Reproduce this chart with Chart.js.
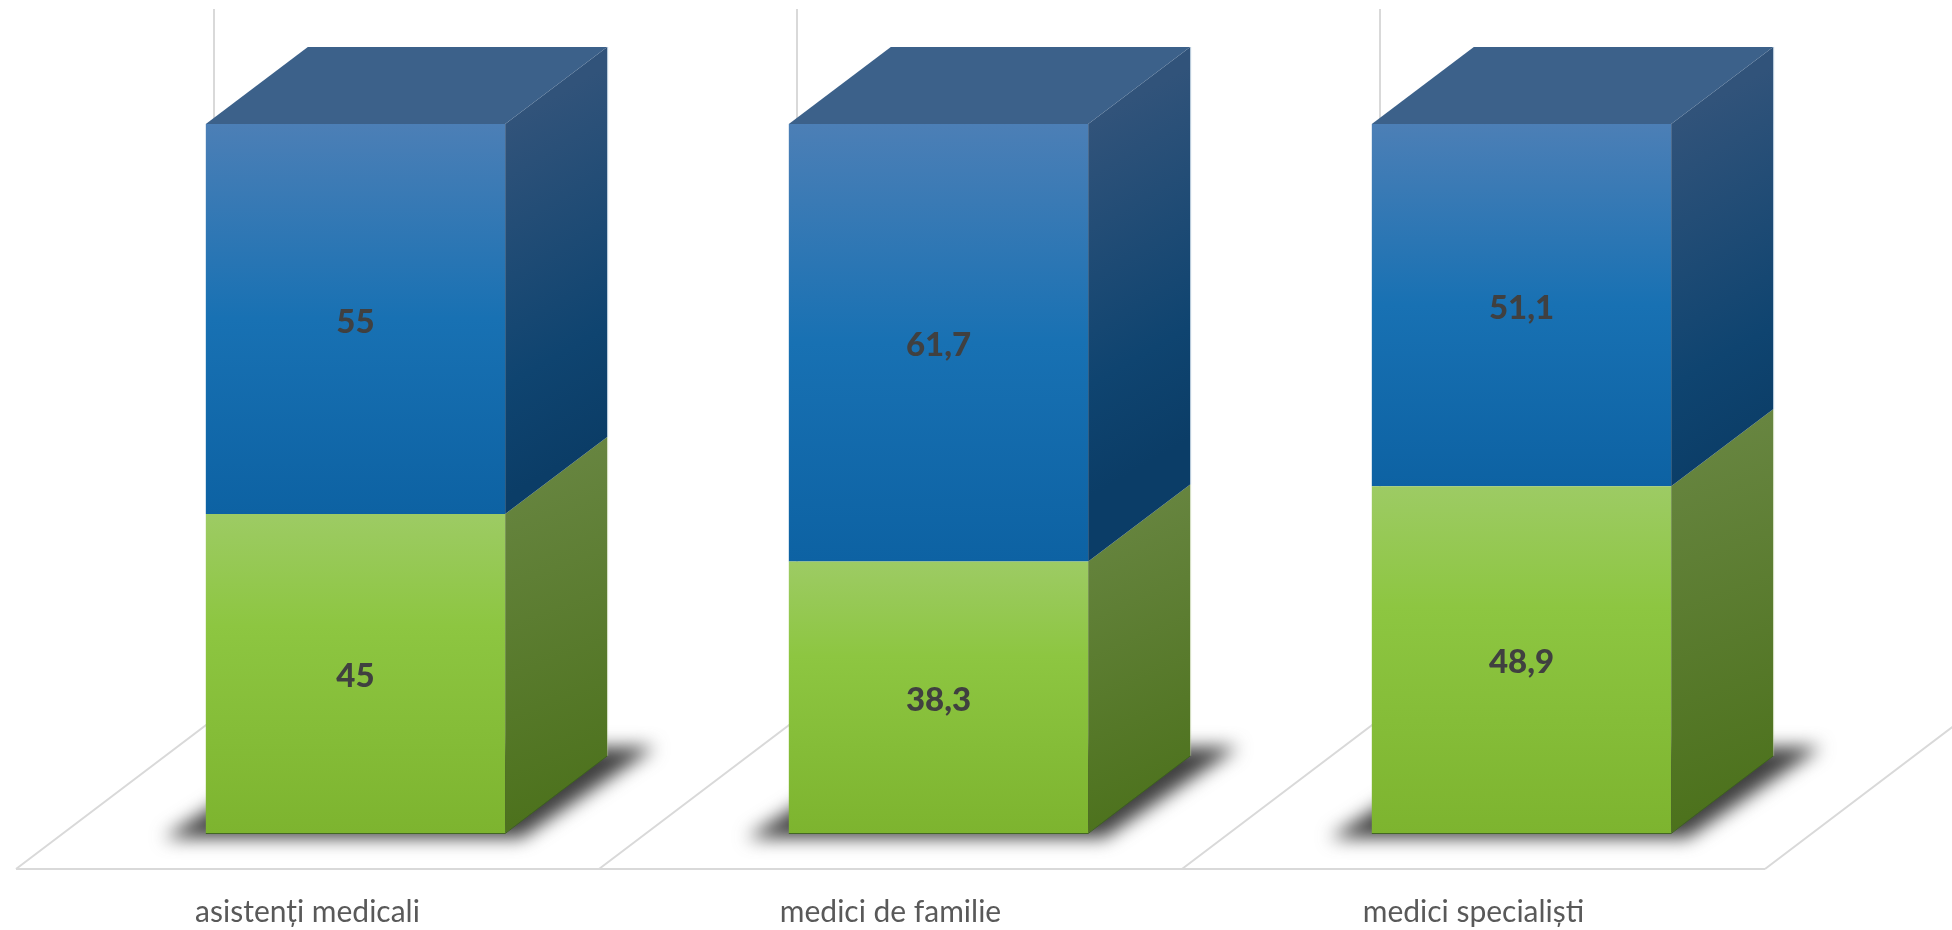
<!DOCTYPE html>
<html lang="ro">
<head>
<meta charset="utf-8">
<title>Grafic</title>
<script src="https://cdn.jsdelivr.net/npm/chart.js@4/dist/chart.umd.min.js"></script>
<style>
html,body{margin:0;padding:0;background:#fff;overflow:hidden}
canvas{display:block}
</style>
</head>
<body>
<canvas id="c" width="1952" height="930"></canvas>
<script>
const categories = ['asistenți medicali', 'medici de familie', 'medici specialiști'];
const greenValues = [45, 38.3, 48.9];
const blueValues = [55, 61.7, 51.1];

const BAR_DEPTH = { x: 102, y: 77 };
const FLOOR_DEPTH = { x: 198, y: 150 };
const FRONT_SHIFT = { x: 48, y: 36 };
const GRID_COLOR = '#D9D9D9';

function faceGradient(ctx, top, bottom, stops) {
  const g = ctx.createLinearGradient(0, top, 0, bottom);
  stops.forEach(s => g.addColorStop(s[0], s[1]));
  return g;
}
const blueStops = [[0, '#4C7FB6'], [0.5, '#1871B3'], [1, '#0D62A3']];
const greenStops = [[0, '#9DCB64'], [0.35, '#8DC641'], [1, '#7DB42F']];

function frontFill(stops, lowerValues) {
  return function (c) {
    const chart = c.chart;
    if (!chart.chartArea) return stops[1][1];
    const y = chart.scales.y;
    const raw = c.dataset.data[c.dataIndex];
    const low = lowerValues ? lowerValues[c.dataIndex] : 0;
    return faceGradient(chart.ctx, y.getPixelForValue(low + raw), y.getPixelForValue(low), stops);
  };
}

function poly(ctx, pts) {
  ctx.beginPath();
  pts.forEach((p, i) => i ? ctx.lineTo(p[0], p[1]) : ctx.moveTo(p[0], p[1]));
  ctx.closePath();
}

const scene3d = {
  id: 'scene3d',
  beforeDatasetsDraw(chart) {
    const ctx = chart.ctx, xs = chart.scales.x, base = chart.scales.y.getPixelForValue(0);
    const step = xs.getPixelForTick(1) - xs.getPixelForTick(0);
    const floorY = base + FRONT_SHIFT.y;
    const firstX = xs.getPixelForTick(0) - step / 2 - FRONT_SHIFT.x;
    const n = categories.length;
    ctx.save();
    ctx.strokeStyle = GRID_COLOR;
    ctx.lineWidth = 2;
    ctx.beginPath();
    ctx.moveTo(firstX, floorY);
    ctx.lineTo(firstX + step * n, floorY);
    for (let i = 0; i <= n; i++) {
      const x = firstX + step * i;
      ctx.moveTo(x, floorY);
      ctx.lineTo(x + FLOOR_DEPTH.x, floorY - FLOOR_DEPTH.y);
      ctx.lineTo(x + FLOOR_DEPTH.x, 9);
    }
    ctx.stroke();
    ctx.restore();

    const meta = chart.getDatasetMeta(0);
    meta.data.forEach(bar => {
      const l = bar.x - bar.width / 2, r = bar.x + bar.width / 2;
      ctx.save();
      ctx.filter = 'blur(9px)';
      ctx.fillStyle = '#404040';
      poly(ctx, [[l - 42, base + 5], [r + 16, base + 5], [r + 150, base - 86], [l + 100, base - 86]]);
      ctx.fill();
      ctx.restore();
    });
  },
  afterDatasetsDraw(chart) {
    const ctx = chart.ctx, yScale = chart.scales.y;
    const d = BAR_DEPTH;
    [chart.getDatasetMeta(0), chart.getDatasetMeta(1)].forEach((meta, ds) => {
      meta.data.forEach((bar, i) => {
        const r = bar.x + bar.width / 2, l = bar.x - bar.width / 2;
        const top = bar.y, bottom = bar.base;
        if (ds === 0) {
          const gg = ctx.createLinearGradient(r, top - d.y, r + d.x + 40, bottom - 20);
          gg.addColorStop(0, '#6A8744');
          gg.addColorStop(1, '#4A7019');
          ctx.fillStyle = gg;
        } else {
          const g = ctx.createLinearGradient(r, yScale.top, r + d.x + 60, yScale.top + 280);
          g.addColorStop(0, '#31537A');
          g.addColorStop(0.7, '#0F4470');
          g.addColorStop(1, '#0B3D67');
          ctx.fillStyle = g;
        }
        poly(ctx, [[r, top], [r + d.x, top - d.y], [r + d.x, bottom - d.y], [r, bottom]]);
        ctx.fill();
        ctx.strokeStyle = ds === 0 ? 'rgba(190,210,160,0.45)' : 'rgba(150,180,205,0.55)';
        ctx.lineWidth = 1;
        ctx.beginPath();
        ctx.moveTo(r + d.x + 0.5, top - d.y);
        ctx.lineTo(r + d.x + 0.5, bottom - d.y);
        ctx.stroke();
        if (ds === 1) {
          ctx.fillStyle = '#3C618A';
          poly(ctx, [[l, top], [l + d.x, top - d.y], [r + d.x, top - d.y], [r, top]]);
          ctx.fill();
        } else {
          ctx.strokeStyle = 'rgba(60,100,25,0.9)';
          ctx.beginPath();
          ctx.moveTo(l, bottom + 0.5);
          ctx.lineTo(r, bottom + 0.5);
          ctx.lineTo(r + d.x, bottom - d.y);
          ctx.stroke();
        }
      });
    });
  },
  afterDraw(chart) {
    const ctx = chart.ctx;
    ctx.save();
    ctx.font = '900 33px Lato';
    ctx.fillStyle = '#404040';
    ctx.textAlign = 'center';
    ctx.textBaseline = 'middle';
    chart.data.datasets.forEach((ds, k) => {
      chart.getDatasetMeta(k).data.forEach((bar, i) => {
        const text = String(ds.data[i]).replace('.', ',');
        ctx.fillText(text, bar.x, (bar.y + bar.base) / 2 + 3);
      });
    });
    ctx.restore();
  }
};

new Chart(document.getElementById('c'), {
  type: 'bar',
  data: {
    labels: categories,
    datasets: [
      { label: 'verde', data: greenValues, backgroundColor: frontFill(greenStops, null) },
      { label: 'albastru', data: blueValues, backgroundColor: frontFill(blueStops, greenValues) }
    ]
  },
  options: {
    responsive: false,
    animation: false,
    devicePixelRatio: 1,
    barPercentage: 0.5135,
    categoryPercentage: 1,
    layout: { padding: { left: 64, right: 139, top: 124, bottom: 0 } },
    plugins: { legend: { display: false }, tooltip: { enabled: false }, title: { display: false } },
    scales: {
      x: {
        stacked: true,
        grid: { display: false, drawTicks: false },
        border: { display: false },
        afterFit(s) { s.height = 97; },
        ticks: {
          maxRotation: 0,
          labelOffset: -48,
          padding: 61,
          color: '#595959',
          font: { family: 'Lato', size: 30 }
        }
      },
      y: { stacked: true, display: false, min: 0, max: 100 }
    }
  },
  plugins: [scene3d]
});
</script>
</body>
</html>
